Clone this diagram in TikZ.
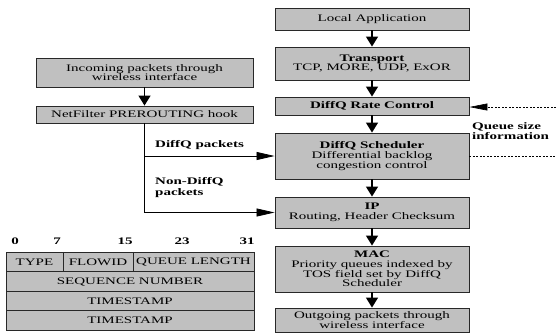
\documentclass[tikz,border=0pt]{standalone}
\usepackage{fontspec}
\setmainfont{Liberation Serif}[FakeStretch=1.5]
\usetikzlibrary{arrows.meta}
\definecolor{boxgray}{RGB}{192,192,192}
\definecolor{edgegray}{RGB}{40,40,40}
\tikzset{
  layer/.style={draw=edgegray, fill=boxgray, line width=0.9pt, inner sep=0pt, align=center,
    font=\fontsize{10}{9.7}\selectfont, minimum width=194pt},
  cell/.style={draw=edgegray, fill=boxgray, line width=0.9pt, inner sep=0pt, align=center,
    font=\fontsize{10}{9.7}\selectfont, minimum height=19.5pt},
  varrow/.style={line width=1.4pt, -{Triangle[length=10pt,width=12pt]}},
  harrow/.style={line width=0.8pt, -{Triangle[length=18pt,width=8pt]}},
  dasharrow/.style={line width=0.6pt, dash pattern=on 2pt off 1.5pt, -{Triangle[length=18pt,width=7pt]}},
  lbl/.style={font=\fontsize{10}{10.5}\selectfont\bfseries, align=left, inner sep=0pt, anchor=west},
  bit/.style={font=\fontsize{10}{10}\selectfont\bfseries, inner sep=0pt},
}
\begin{document}
\begin{tikzpicture}[x=1pt,y=-1pt]
\useasboundingbox (0,0) rectangle (556,333);
% right column
\node[layer, minimum height=22pt] (local) at (372,19) {Local Application};
\node[layer, minimum height=33pt] (transport) at (372,63.5) {\textbf{Transport}\\TCP, MORE, UDP, ExOR};
\node[layer, minimum height=18pt] (rate) at (372,106) {\textbf{DiffQ Rate Control}};
\node[layer, minimum height=46pt] (sched) at (372,156) {\textbf{DiffQ Scheduler}\\Differential backlog\\congestion control};
\node[layer, minimum height=31pt] (ip) at (372,212.5) {\textbf{IP}\\Routing, Header Checksum};
\node[layer, minimum height=46pt] (mac) at (372,269) {\textbf{MAC}\\Priority queues indexed by\\TOS field set by DiffQ\\Scheduler};
\node[layer, minimum height=24pt] (out) at (372,320) {Outgoing packets through\\wireless interface};
% left column
\node[layer, minimum width=217pt, minimum height=29pt] (incoming) at (144.5,72.5) {Incoming packets through\\wireless interface};
\node[layer, minimum width=217pt, minimum height=17pt] (netfilter) at (144.5,114.5) {NetFilter PREROUTING hook};
% vertical arrows
\draw[varrow] (local) -- (transport);
\draw[varrow] (transport) -- (rate);
\draw[varrow] (rate) -- (sched);
\draw[varrow] (sched) -- (ip);
\draw[varrow] (ip) -- (mac);
\draw[varrow] (mac) -- (out);
\draw[varrow] (incoming) -- (netfilter);
% branch
\coordinate (j1) at (netfilter.south |- sched.west);
\coordinate (j2) at (netfilter.south |- ip.west);
\draw[line width=0.8pt] (netfilter.south) -- (j2);
\draw[harrow] (j1) -- (sched.west);
\draw[harrow] (j2) -- (ip.west);
\node[lbl] (lbldq) at (155,145) {DiffQ packets};
\node[lbl] (lblndq) at (155,187.5) {Non-DiffQ\\packets};
% queue size info
\coordinate (qin) at (556,107);
\coordinate (qout) at (556,156);
\draw[dasharrow] (qin) -- (rate.east |- qin);
\draw[line width=0.6pt, dash pattern=on 2pt off 1.5pt] (sched.east) -- (qout);
\node[lbl] (qinfo) at (472,131) {Queue size\\information};
% header table
\node[bit] (b0) at (15,241) {0};
\node[bit] (b7) at (57,241) {7};
\node[bit] (b15) at (125,241) {15};
\node[bit] (b23) at (182,241) {23};
\node[bit] (b31) at (247,241) {31};
\node[cell, minimum width=57pt] (type) at (34.5,262) {TYPE};
\node[cell, minimum width=70pt] (flowid) at (98,262) {FLOWID};
\node[cell, minimum width=121pt] (qlen) at (193.5,262) {QUEUE LENGTH};
\node[cell, minimum width=248pt] (seq) at (130,281.5) {SEQUENCE NUMBER};
\node[cell, minimum width=248pt] (ts1) at (130,301) {TIMESTAMP};
\node[cell, minimum width=248pt] (ts2) at (130,320.5) {TIMESTAMP};
\draw[line width=1.8pt, edgegray] (type.north east) -- (type.south east);
\draw[line width=1.8pt, edgegray] (flowid.north east) -- (flowid.south east);
\end{tikzpicture}
\end{document}
